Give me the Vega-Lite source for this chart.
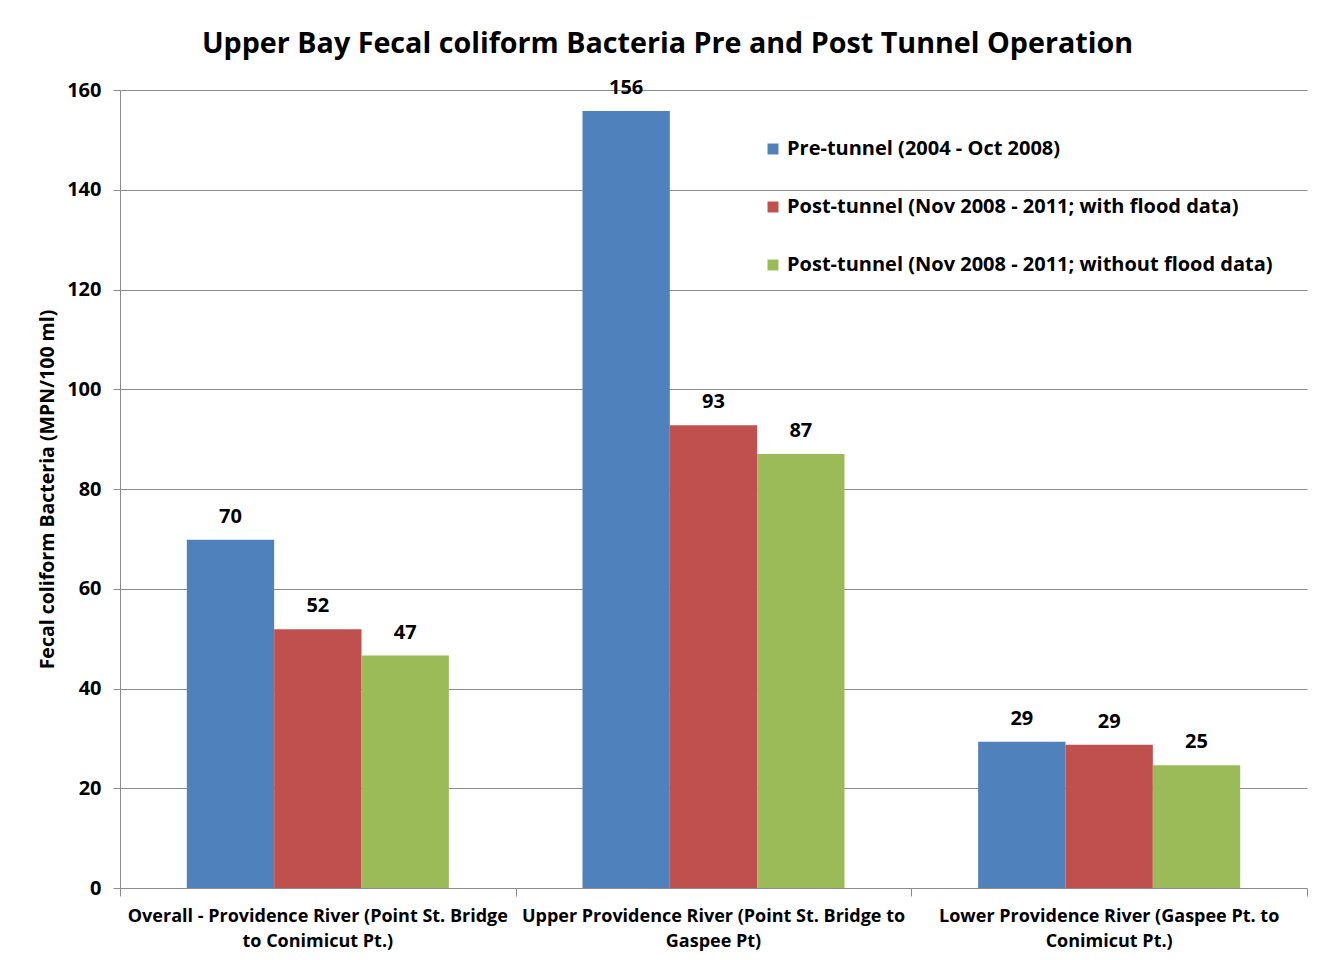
{
  "$schema": "https://vega.github.io/schema/vega-lite/v6.json",
  "autosize": {"type": "none"},
  "padding": {"left": 120, "top": 90, "right": 24, "bottom": 72},
  "width": 1187,
  "height": 798,
  "background": "white",
  "config": {
    "font": "Open Sans",
    "view": {"stroke": null},
    "title": {"fontSize": 28.7, "fontWeight": "bold", "color": "#000000", "font": "Open Sans", "anchor": "middle", "dx": -46, "offset": 19}
  },
  "title": "Upper Bay Fecal coliform Bacteria Pre and Post Tunnel Operation",
  "data": {
    "values": [
      {"region": "Overall - Providence River (Point St. Bridge to Conimicut Pt.)", "period": "Pre-tunnel (2004 - Oct 2008)", "value": 69.8},
      {"region": "Overall - Providence River (Point St. Bridge to Conimicut Pt.)", "period": "Post-tunnel (Nov 2008 - 2011; with flood data)", "value": 51.9},
      {"region": "Overall - Providence River (Point St. Bridge to Conimicut Pt.)", "period": "Post-tunnel (Nov 2008 - 2011; without flood data)", "value": 46.6},
      {"region": "Upper Providence River (Point St. Bridge to Gaspee Pt)", "period": "Pre-tunnel (2004 - Oct 2008)", "value": 155.8},
      {"region": "Upper Providence River (Point St. Bridge to Gaspee Pt)", "period": "Post-tunnel (Nov 2008 - 2011; with flood data)", "value": 92.8},
      {"region": "Upper Providence River (Point St. Bridge to Gaspee Pt)", "period": "Post-tunnel (Nov 2008 - 2011; without flood data)", "value": 87.0},
      {"region": "Lower Providence River  (Gaspee Pt. to Conimicut Pt.)", "period": "Pre-tunnel (2004 - Oct 2008)", "value": 29.3},
      {"region": "Lower Providence River  (Gaspee Pt. to Conimicut Pt.)", "period": "Post-tunnel (Nov 2008 - 2011; with flood data)", "value": 28.7},
      {"region": "Lower Providence River  (Gaspee Pt. to Conimicut Pt.)", "period": "Post-tunnel (Nov 2008 - 2011; without flood data)", "value": 24.6}
    ]
  },
  "encoding": {
    "xOffset": {"field": "period", "type": "nominal", "sort": null, "scale": {"paddingInner": 0, "paddingOuter": 0.765}},
    "y": {
      "field": "value", "type": "quantitative",
      "scale": {"domain": [0, 160], "nice": false},
      "axis": {
        "title": "Fecal coliform Bacteria (MPN/100 ml)", "titleFontSize": 19.5, "titleFontWeight": "bold", "titleColor": "#000000", "titlePadding": 9,
        "values": [0, 20, 40, 60, 80, 100, 120, 140, 160],
        "labelFontSize": 20, "labelFontWeight": "bold", "labelColor": "#000000", "labelPadding": 12,
        "tickSize": 7, "tickColor": "#8c8c8c", "domainColor": "#8c8c8c",
        "grid": true, "gridColor": "#8c8c8c", "gridWidth": 1
      }
    }
  },
  "resolve": {"axis": {"x": "independent"}},
  "layer": [
    {
      "mark": {"type": "bar"},
      "encoding": {
        "x": {
          "field": "region", "type": "nominal", "sort": null,
          "scale": {"paddingInner": 0, "paddingOuter": 0},
          "axis": {
            "orient": "bottom", "title": null, "labels": false, "tickBand": "extent", "tickSize": 8,
            "tickColor": "#8c8c8c", "domainColor": "#8c8c8c"
          }
        },
        "color": {
          "field": "period", "type": "nominal", "sort": null,
          "scale": {"range": ["#4F81BD", "#C0504D", "#9BBB59"]},
          "legend": {
            "title": null, "orient": "none", "legendX": 643, "legendY": 49,
            "symbolType": "square", "symbolSize": 120, "symbolStrokeWidth": 0,
            "labelFontSize": 20, "labelFontWeight": "bold", "labelColor": "#000000", "labelLimit": 0,
            "labelOffset": 4, "rowPadding": 38
          }
        }
      }
    },
    {
      "mark": {"type": "text", "baseline": "middle", "dy": -23, "fontSize": 20, "fontWeight": "bold", "color": "#000000"},
      "encoding": {
        "x": {
          "field": "region", "type": "nominal", "sort": null,
          "scale": {"paddingInner": 0, "paddingOuter": 0},
          "axis": {
            "orient": "bottom", "title": null, "ticks": false, "domain": false, "labelAngle": 0,
            "labelFontSize": 18, "labelFontWeight": "bold", "labelColor": "#000000",
            "labelLineHeight": 25, "labelPadding": 19, "labelLimit": 0,
            "labelExpr": "datum.value == 'Overall - Providence River (Point St. Bridge to Conimicut Pt.)' ? ['Overall - Providence River (Point St. Bridge', 'to Conimicut Pt.)'] : datum.value == 'Upper Providence River (Point St. Bridge to Gaspee Pt)' ? ['Upper Providence River (Point St. Bridge to', 'Gaspee Pt)'] : ['Lower Providence River  (Gaspee Pt. to', 'Conimicut Pt.)']"
          }
        },
        "text": {"field": "value", "type": "quantitative", "format": ".0f"}
      }
    }
  ]
}
